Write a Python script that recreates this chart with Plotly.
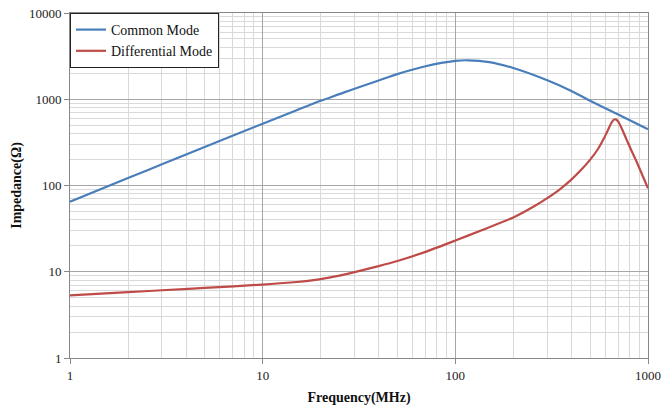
import plotly.graph_objects as go

freq_cm = [1, 2, 3, 5, 10, 15, 20, 25, 30, 40, 50, 70, 100, 116, 150, 200, 300, 400, 500, 700, 1000]
z_cm = [65, 122, 176, 279, 521, 745, 959, 1146, 1326, 1650, 1956, 2410, 2779, 2830, 2700, 2300, 1660, 1250, 960, 665, 450]

freq_dm = [1, 2, 3, 5, 10, 15, 20, 25, 30, 40, 50, 70, 100, 135, 200, 250, 300, 350, 400, 450, 500, 550, 590, 620, 645, 665, 680, 700, 730, 770, 820, 880, 940, 1000]
z_dm = [5.33, 5.8, 6.1, 6.5, 7.1, 7.6, 8.2, 9.0, 9.9, 11.6, 13.3, 17.0, 23, 29.9, 42.6, 55.5, 71.5, 91, 117, 152, 198, 265, 350, 440, 530, 580, 585, 550, 460, 350, 255, 181, 128, 93]

x_ticks = [1, 10, 100, 1000]
y_ticks = [1, 10, 100, 1000, 10000]
minor_x = [m * d for d in [1, 10, 100] for m in range(2, 10)]
minor_y = [m * d for d in [1, 10, 100, 1000] for m in range(2, 10)]

font_family = "Liberation Serif, DejaVu Serif, serif"

fig = go.Figure()
fig.add_trace(go.Scatter(x=freq_cm, y=z_cm, mode="lines", name="Common Mode",
                         line=dict(color="#4A7EBB", width=2.2, shape="spline", smoothing=1.0)))
fig.add_trace(go.Scatter(x=freq_dm, y=z_dm, mode="lines", name="Differential Mode",
                         line=dict(color="#BE4B48", width=2.2, shape="spline", smoothing=0.6)))

fig.update_layout(
    width=662, height=408,
    margin=dict(l=70, r=14, t=13, b=50, autoexpand=False),
    paper_bgcolor="white", plot_bgcolor="white",
    font=dict(family=font_family, size=13, color="#222"),
    showlegend=True,
    legend=dict(x=0, y=1, xanchor="left", yanchor="top",
                bgcolor="white", bordercolor="#222", borderwidth=1,
                font=dict(family=font_family, size=14, color="#111"),
                tracegroupgap=0, itemwidth=30),
)
fig.update_xaxes(
    type="log", range=[0, 3], automargin=False,
    tickmode="array", tickvals=x_ticks, ticktext=[str(v) for v in x_ticks],
    showgrid=True, gridcolor="#A6A6A6", gridwidth=1,
    showline=True, linecolor="#888", mirror=True,
    ticks="outside", ticklen=5, tickcolor="#888",
    minor=dict(tickmode="array", tickvals=minor_x, showgrid=True, gridcolor="#D9D9D9",
               gridwidth=1, ticks=""),
    title=dict(text="<b>Frequency(MHz)</b>", font=dict(family=font_family, size=14, color="#111"),
               standoff=10),
    tickfont=dict(family=font_family, size=13, color="#222"),
    zeroline=False,
)
fig.update_yaxes(
    type="log", range=[0, 4], automargin=False,
    tickmode="array", tickvals=y_ticks, ticktext=[str(v) for v in y_ticks],
    showgrid=True, gridcolor="#A6A6A6", gridwidth=1,
    showline=True, linecolor="#888", mirror=True,
    ticks="outside", ticklen=5, tickcolor="#888",
    minor=dict(tickmode="array", tickvals=minor_y, showgrid=True, gridcolor="#D9D9D9",
               gridwidth=1, ticks=""),
    title=dict(text="<b>Impedance(Ω)</b>", font=dict(family=font_family, size=14, color="#111"),
               standoff=4),
    tickfont=dict(family=font_family, size=13, color="#222"),
    zeroline=False,
)

fig.write_html("out.html", config={"displayModeBar": False},
               post_script="document.body.style.margin='0';document.body.style.overflow='hidden';")
